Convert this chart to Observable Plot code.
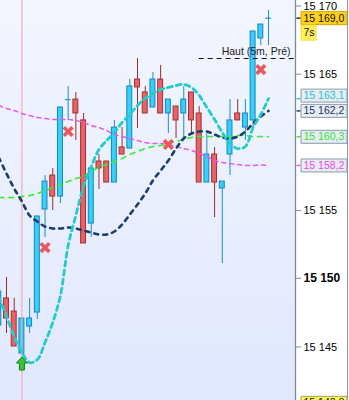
<!DOCTYPE html>
<html><head><meta charset="utf-8">
<script src="https://cdn.jsdelivr.net/npm/d3@7"></script>
<script src="https://cdn.jsdelivr.net/npm/@observablehq/plot@0.6"></script>
<style>
html,body{margin:0;padding:0;overflow:hidden;background:#fff;}
#chart{position:relative;width:349px;height:400px;background:linear-gradient(#f3f6ff,#e1e8fd) 0 0/295px 100% no-repeat,#fff;}
#edge{position:absolute;left:347px;top:0;width:1px;height:400px;background:#8a96a3;}
</style></head><body><div id="chart"><div id="edge"></div></div>
<script>
// ---- data ----
const candleIndex = d3.range(36);
const open  = [15146.47,15148.45,15147.49,15144.41,15146.39,15147.42,15154.97,15157.46,15155.92,15163.03,15163.03,15161.50,15153.94,15158.49,15158.49,15156.95,15159.52,15159.44,15164.50,15163.55,15162.45,15164.50,15162.01,15162.52,15162.01,15163.55,15162.01,15156.95,15159.00,15156.51,15159.00,15162.01,15160.98,15161.50,15167.51,15169.0];
const close = [15148.96,15146.98,15144.93,15146.98,15146.98,15154.46,15157.02,15155.92,15162.45,15163.03,15162.01,15152.48,15157.98,15157.98,15156.95,15160.98,15159.00,15163.99,15163.92,15162.01,15164.50,15162.01,15163.03,15161.50,15163.03,15161.50,15156.95,15159.00,15156.95,15157.02,15161.50,15161.50,15162.01,15168.02,15168.53,15169.0];
const high  = [15148.96,15149.99,15148.45,15146.98,15148.45,15154.46,15157.46,15157.98,15162.45,15163.99,15163.55,15162.01,15157.98,15159.00,15158.49,15161.50,15160.98,15164.50,15166.04,15163.99,15165.01,15165.53,15163.03,15162.52,15163.99,15163.55,15162.52,15160.54,15159.52,15157.02,15163.03,15163.03,15163.03,15168.02,15168.53,15169.56];
const low   = [15146.47,15145.88,15144.93,15144.41,15145.88,15146.91,15152.92,15154.90,15155.41,15161.50,15160.03,15152.48,15152.92,15156.44,15156.95,15156.95,15159.00,15159.44,15160.91,15162.01,15162.45,15162.01,15160.54,15160.18,15160.18,15160.54,15156.95,15156.95,15154.38,15151.01,15157.46,15161.50,15160.03,15160.98,15166.99,15166.99];

const cyanLine  = [15148.59,15147.13,15145.66,15144.49,15143.75,15143.97,15145.22,15146.69,15148.67,15152.33,15154.53,15156.66,15158.12,15159.37,15160.03,15160.62,15161.35,15161.94,15162.60,15163.11,15163.48,15163.77,15163.92,15164.06,15164.14,15163.92,15163.33,15162.45,15161.57,15160.62,15159.81,15159.44,15159.59,15160.98,15161.94,15163.10];
const navyLine  = [15158.78,15157.61,15156.51,15155.56,15154.53,15154.09,15153.72,15153.58,15153.58,15153.65,15153.58,15153.43,15153.28,15153.14,15153.14,15153.36,15153.87,15154.60,15155.34,15156.14,15157.10,15157.83,15158.56,15159.44,15160.18,15160.54,15160.69,15160.69,15160.47,15160.25,15160.18,15160.32,15160.69,15161.28,15161.79,15162.20];
const greenLine = [15155.85,15155.85,15155.85,15155.92,15156.00,15156.14,15156.36,15156.58,15156.80,15157.02,15157.24,15157.39,15157.76,15158.05,15158.27,15158.49,15158.71,15159.00,15159.22,15159.44,15159.59,15159.66,15159.81,15159.96,15160.10,15160.25,15160.32,15160.32,15160.32,15160.32,15160.32,15160.40,15160.40,15160.32,15160.32,15160.30];
const pinkLine  = [15162.60,15162.38,15162.23,15162.01,15161.86,15161.72,15161.64,15161.57,15161.57,15161.57,15161.50,15161.35,15161.13,15160.98,15160.76,15160.47,15160.32,15160.18,15160.03,15159.88,15159.81,15159.81,15159.74,15159.59,15159.44,15159.30,15159.08,15158.86,15158.56,15158.42,15158.34,15158.27,15158.20,15158.20,15158.23,15158.20];

const crossIdx   = [6, 9, 22, 34];
const crossPrice = [15152.18, 15160.69, 15159.74, 15165.23];
const arrowIdx   = [3];
const arrowPrice = [15143.68];
const sessionStartIdx = 3;
const hautPrice = 15166.04;
const hautStartIdx = 26;
const hautLabel = "Haut (5m, Pré)";

const yTicks     = [15145, 15155, 15165, 15170];   // 15 160 sits under the green level box
const yTicksBold = [15150];
const lastPrice  = 15169.0;
const timerLabel = "7s";
const levelValues = [15163.1, 15162.2, 15160.3, 15158.2];
const levelColors = ["#25c6cc", "#1b3563", "#2ee82e", "#e94ce9"];
const levelLineColors = ["#22cccc", "#1b3d6e", "#33ee33", "#ee55ee"];
const bottomLevel = 15140.8;

// ---- build ----
const X_DOMAIN = [0.2214, 38.5];
const Y_DOMAIN = [15140.97, 15170.293];
const fmtInt = d => d3.format(",")(d).replace(/,/g, " ");
const fmtDec = d => d3.format(",.1f")(d).replace(/,/g, " ").replace(".", ",");

const candles = candleIndex.map(i => ({i, open: open[i], close: close[i], high: high[i], low: low[i]}));
const isUp = d => d.close >= d.open;
const bodies = candles.filter(d => d.open !== d.close);
const dojis = candles.filter(d => d.open === d.close);
const series = (arr) => arr.map((v, i) => ({i, v}));
const crosses = crossIdx.map((i, k) => ({i, p: crossPrice[k]}));
const arrows = arrowIdx.map((i, k) => ({i, p: arrowPrice[k]}));
const levels = levelValues.map((p, k) => ({p, color: levelColors[k], line: levelLineColors[k], shift: k === 0 ? -3 : 0}));

const boxSym = (x, y, w, h) => ({draw(ctx) { ctx.rect(x, y, w, h); }});
const tickSym = {draw(ctx) { ctx.moveTo(1, 0); ctx.lineTo(5, 0); }};
const arrowSym = {draw(ctx) {
  ctx.moveTo(0, -6.5); ctx.lineTo(5.5, -0.5); ctx.lineTo(2.5, -0.5); ctx.lineTo(2.5, 6.5);
  ctx.lineTo(-2.5, 6.5); ctx.lineTo(-2.5, -0.5); ctx.lineTo(-5.5, -0.5); ctx.closePath();
}};

const lineOpts = (color, w, dash) => ({x: "i", y: "v", stroke: color, strokeWidth: w, strokeDasharray: dash, curve: "catmull-rom", clip: true});
const LBL = 10.5;

const chart = Plot.plot({
  width: 349, height: 400,
  marginTop: 0, marginBottom: 0, marginLeft: 0, marginRight: 54,
  x: {type: "linear", domain: X_DOMAIN, axis: null},
  y: {domain: Y_DOMAIN, axis: null},
  color: {type: "identity"},
  style: {background: "transparent", fontFamily: "'Liberation Sans', Arial, sans-serif", overflow: "visible"},
  marks: [
    Plot.ruleX(candles, {x: "i", y1: "low", y2: "high", stroke: d => isUp(d) ? "#1a8fc8" : "#9c2b2b", strokeWidth: 1, clip: true}),
    Plot.rect(bodies, {x1: d => d.i - 0.32, x2: d => d.i + 0.32, y1: "open", y2: "close",
      fill: d => isUp(d) ? "#36d0fa" : "#e66467", stroke: d => isUp(d) ? "#1386c0" : "#a3302f", strokeWidth: 1, clip: true}),
    Plot.ruleY(dojis, {y: "open", x1: d => d.i - 0.36, x2: d => d.i + 0.36, stroke: "#1a8fc8", strokeWidth: 1.2, clip: true}),
    Plot.ruleX([sessionStartIdx], {stroke: "#f2a2aa", strokeWidth: 1}),
    Plot.line(series(pinkLine), lineOpts("#ee55ee", 1.5, "4,4")),
    Plot.line(series(greenLine), lineOpts("#33ee33", 1.6, "5,5")),
    Plot.line(series(navyLine), lineOpts("#1b3d6e", 2.6, "4,5")),
    Plot.line(series(cyanLine), lineOpts("#22cccc", 2.8, "5,4")),
    Plot.ruleY([hautPrice], {y: d => d, x1: () => hautStartIdx, x2: () => X_DOMAIN[1], stroke: "#111", strokeWidth: 1.2, strokeDasharray: "5,4"}),
    Plot.text([hautPrice], {y: d => d, text: () => hautLabel, frameAnchor: "right", dx: -5, dy: -6.5, textAnchor: "end", fontSize: 10.5, fill: "#222"}),
    Plot.dot(crosses, {x: "i", y: "p", symbol: "times", r: 4, stroke: "#e85a5e", strokeWidth: 3.6}),
    Plot.dot(arrows, {x: "i", y: "p", symbol: arrowSym, fill: "#35c935", stroke: "#1d7a1d", strokeWidth: 1}),
    Plot.ruleX([X_DOMAIN[1]], {stroke: "#7a8a99", strokeWidth: 1.3}),
    Plot.axisY({ticks: yTicks, anchor: "right", tickSize: 5, tickPadding: 3, tickFormat: fmtInt, fontSize: 11, dy: 1.5, fill: "#000", stroke: "#7a8a99", label: null}),
    Plot.axisY({ticks: yTicksBold, anchor: "right", tickSize: 5, tickPadding: 3, tickFormat: fmtInt, fontSize: 12, dy: 1, fontWeight: "bold", fill: "#000", stroke: "#7a8a99", label: null}),
    Plot.dot(levels, {y: "p", frameAnchor: "right", symbol: tickSym, stroke: "line", strokeWidth: 1.5}),
    Plot.dot(levels, {y: "p", frameAnchor: "right", symbol: boxSym(5.5, -6.5, 46, 13), fill: "#e6ecf2", stroke: "#8b9cb0", strokeWidth: 1, filter: d => d.shift === 0}),
    Plot.dot(levels, {y: "p", dy: -3, frameAnchor: "right", symbol: boxSym(5.5, -6.5, 46, 13), fill: "#e6ecf2", stroke: "#8b9cb0", strokeWidth: 1, filter: d => d.shift !== 0}),
    Plot.text(levels, {y: "p", filter: d => d.shift === 0, text: d => fmtDec(d.p), frameAnchor: "right", dx: 8, textAnchor: "start", fill: "color", fontSize: LBL}),
    Plot.text(levels, {y: "p", dy: -3, filter: d => d.shift !== 0, text: d => fmtDec(d.p), frameAnchor: "right", dx: 8, textAnchor: "start", fill: "color", fontSize: LBL}),
    Plot.dot([lastPrice], {y: d => d, frameAnchor: "right", symbol: tickSym, stroke: "#222", strokeWidth: 1.5}),
    Plot.dot([lastPrice], {y: d => d, frameAnchor: "right", symbol: boxSym(5.5, -6.5, 46, 13), fill: "#ffd11a", stroke: "#dba400", strokeWidth: 1}),
    Plot.text([lastPrice], {y: d => d, text: d => fmtDec(d), frameAnchor: "right", dx: 8, textAnchor: "start", fill: "#111", fontSize: LBL}),
    Plot.dot([lastPrice], {y: d => d, dy: 14, frameAnchor: "right", symbol: boxSym(5.5, -7, 15, 15), fill: "#fff05a", stroke: "#f3dc3a", strokeWidth: 1}),
    Plot.text([lastPrice], {y: d => d, dy: 14, text: () => timerLabel, frameAnchor: "right", dx: 8, textAnchor: "start", fill: "#111", fontSize: LBL}),
    Plot.dot([bottomLevel], {y: d => d, frameAnchor: "right", symbol: boxSym(5.5, -6.5, 46, 13), fill: "#ffff33", stroke: "#9a9a9a", strokeWidth: 1}),
    Plot.text([bottomLevel], {y: d => d, text: d => fmtDec(d), frameAnchor: "right", dx: 8, textAnchor: "start", fill: "#111", fontSize: LBL})
  ]
});
document.getElementById("chart").prepend(chart);
</script></body></html>
